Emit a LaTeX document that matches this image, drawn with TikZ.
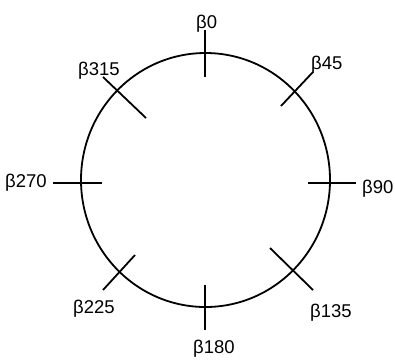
\documentclass[tikz,border=0pt]{standalone}
\usepackage{fontspec}
\setmainfont{Liberation Sans}
\begin{document}
\begin{tikzpicture}[x=1pt,y=-1pt,
  rim/.style={line width=1.8pt},
  tickline/.style={line width=1.8pt},
  lbl/.style={anchor=base west,inner sep=0pt,font=\fontsize{18.5}{22}\selectfont}]
\useasboundingbox (0,0) rectangle (395,360);
\draw[rim] (205.5,180) ellipse [x radius=124.5, y radius=127];
% ticks
\coordinate (t0a) at (205,30);  \coordinate (t0b) at (205,77);
\coordinate (t45a) at (313,72); \coordinate (t45b) at (281,106);
\coordinate (t90a) at (356,183); \coordinate (t90b) at (308,183);
\coordinate (t135a) at (313,290); \coordinate (t135b) at (270,248);
\coordinate (t180a) at (205,330); \coordinate (t180b) at (205,285);
\coordinate (t225a) at (103,290); \coordinate (t225b) at (135,255);
\coordinate (t270a) at (53,183); \coordinate (t270b) at (102,183);
\coordinate (t315a) at (103,77); \coordinate (t315b) at (146,118);
\foreach \a in {0,45,90,135,180,225,270,315}
  \draw[tickline] (t\a a) -- (t\a b);
% labels
\node[lbl] (l0) at (196,28) {β0};
\node[lbl] (l45) at (311,69) {β45};
\node[lbl] (l90) at (362,193) {β90};
\node[lbl] (l135) at (310,317) {β135};
\node[lbl] (l180) at (193,353) {β180};
\node[lbl] (l225) at (73,313) {β225};
\node[lbl] (l270) at (5,187) {β270};
\node[lbl] (l315) at (78,75) {β315};
\end{tikzpicture}
\end{document}
